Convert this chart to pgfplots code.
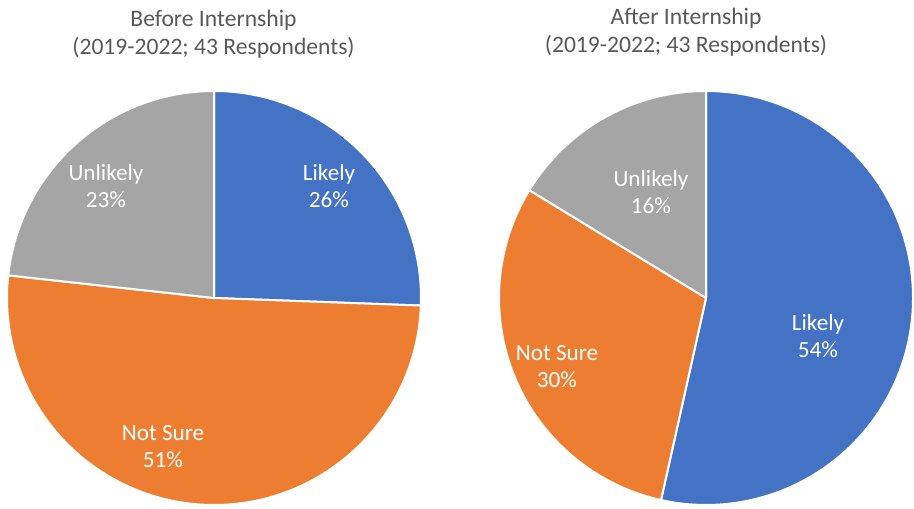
\documentclass[border=0pt]{standalone}
\usepackage{pgfplots}
\pgfplotsset{compat=1.18}
\usepackage{pgfplotstable}
\usepackage{fontspec}
\setmainfont{Carlito}
\definecolor{cLikely}{HTML}{4472C4}
\definecolor{cNotSure}{HTML}{ED7D31}
\definecolor{cUnlikely}{HTML}{A5A5A5}
\definecolor{titlegray}{HTML}{595959}

% respondents per answer (43 in total)
\pgfplotstableread[col sep=comma]{
label,before,after
Likely,11,23
Not Sure,22,13
Unlikely,10,7
}\pietable

\newcommand\slice[4]{%
  \fill[#1,draw=white,line width=1pt,line join=round]
    (axis cs:#2,210) -- ++(#3:103.5pt)
    arc[start angle=#3,end angle=#4,radius=103.5pt] -- cycle;}
\newcommand\lbl[3]{\node[text=white,align=center,font=\fontsize{11.6}{13.5}\selectfont] at (axis cs:#1,#2) {#3};}

\begin{document}
\begin{tikzpicture}
\pgfplotstablegetelem{0}{before}\of\pietable \let\bL\pgfplotsretval
\pgfplotstablegetelem{1}{before}\of\pietable \let\bN\pgfplotsretval
\pgfplotstablegetelem{0}{after}\of\pietable \let\aL\pgfplotsretval
\pgfplotstablegetelem{1}{after}\of\pietable \let\aN\pgfplotsretval
\pgfmathsetmacro\bA{90-360*\bL/43}
\pgfmathsetmacro\bB{\bA-360*\bN/43}
\pgfmathsetmacro\aA{90-360*\aL/43}
\pgfmathsetmacro\aB{\aA-360*\aN/43}
\begin{axis}[
  at={(0,0)}, anchor=south west,
  width=457pt, height=254pt, scale only axis,
  xmin=0, xmax=914, ymin=0, ymax=508,
  hide axis, clip=false]
% Before
\slice{cLikely}{214}{90}{\bA}
\slice{cNotSure}{214}{\bA}{\bB}
\slice{cUnlikely}{214}{\bB}{-270}
% After
\slice{cLikely}{706}{90}{\aA}
\slice{cNotSure}{706}{\aA}{\aB}
\slice{cUnlikely}{706}{\aB}{-270}
% labels
\lbl{329}{322}{Likely\\26\%}
\lbl{106}{322}{Unlikely\\23\%}
\lbl{163}{61}{Not Sure\\51\%}
\lbl{818}{172}{Likely\\54\%}
\lbl{557}{141}{Not Sure\\30\%}
\lbl{651}{316}{Unlikely\\16\%}
% titles
\node[anchor=base,text=titlegray,font=\fontsize{11.8}{12}\selectfont] at (axis cs:213.5,481) {Before Internship};
\node[anchor=base,text=titlegray,font=\fontsize{11.8}{12}\selectfont] at (axis cs:213.5,453) {(2019-2022; 43 Respondents)};
\node[anchor=base,text=titlegray,font=\fontsize{11.8}{12}\selectfont] at (axis cs:686,483) {After Internship};
\node[anchor=base,text=titlegray,font=\fontsize{11.8}{12}\selectfont] at (axis cs:686,455) {(2019-2022; 43 Respondents)};
\end{axis}
\pgfresetboundingbox
\path (0,0) rectangle (457pt,254pt);
\end{tikzpicture}
\end{document}
